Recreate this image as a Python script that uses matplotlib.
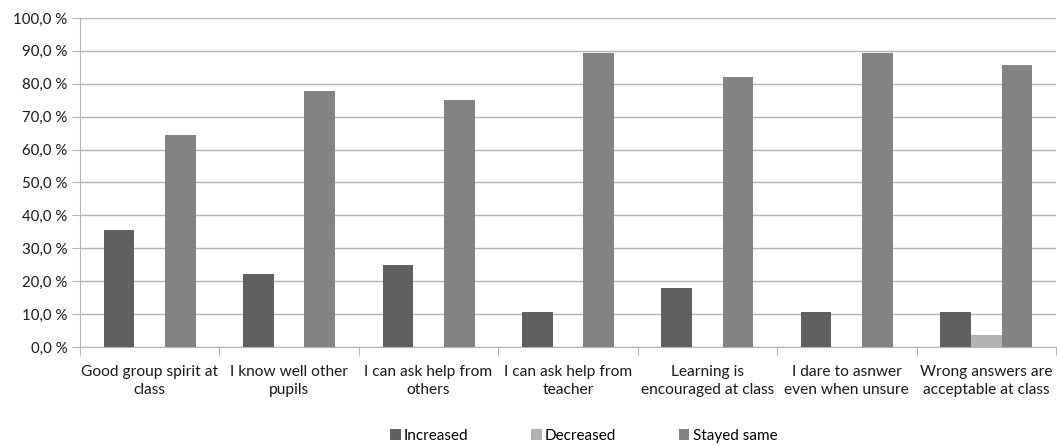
import numpy as np
import matplotlib.pyplot as plt
from matplotlib.ticker import FuncFormatter, FixedLocator

# kysymykset ja vastausten osuudet (%)
categories = ['Good group spirit at\nclass', 'I know well other\npupils',
              'I can ask help from\nothers', 'I can ask help from\nteacher',
              'Learning is\nencouraged at class', 'I dare to asnwer\neven when unsure',
              'Wrong answers are\nacceptable at class']
increased = [35.7, 22.2, 25.0, 10.7, 17.9, 10.7, 10.7]
decreased = [0.0, 0.0, 0.0, 0.0, 0.0, 0.0, 3.6]
stayed_same = [64.3, 77.8, 75.0, 89.3, 82.1, 89.3, 85.7]

plt.rcParams['font.family'] = ['Lato', 'DejaVu Sans']
plt.rcParams['font.size'] = 11

fig = plt.figure(figsize=(10.57, 4.45), dpi=100)
ax = fig.add_axes([0.0757, 0.2202, 0.9233, 0.7394])

x = np.arange(len(categories))
w = 0.22
ax.bar(x - w, increased, w, color='#606060', label='Increased', zorder=3)
ax.bar(x, decreased, w, color='#b2b2b2', label='Decreased', zorder=3)
ax.bar(x + w, stayed_same, w, color='#838383', label='Stayed same', zorder=3)

ax.set_xlim(-0.5, len(categories) - 0.5)
ax.set_ylim(0, 100)
ax.set_yticks(np.arange(0, 101, 10))
ax.yaxis.set_major_formatter(FuncFormatter(lambda v, p: f'{v:.1f}'.replace('.', ',') + ' %'))
ax.grid(axis='y', color='#b4b4b4', linewidth=1, zorder=0)

# kategoriarajat x-akselilla
ax.xaxis.set_major_locator(FixedLocator(np.arange(-0.5, len(categories), 1)))
ax.xaxis.set_major_formatter(FuncFormatter(lambda v, p: ''))
ax.xaxis.set_minor_locator(FixedLocator(x))
ax.set_xticks(x, categories, minor=True)
ax.tick_params(axis='x', which='major', length=6, color='#b4b4b4', direction='out')
ax.tick_params(axis='x', which='minor', length=0, pad=13, labelsize=11.2, colors='#1a1a1a')
ax.tick_params(axis='y', length=6, color='#b4b4b4', direction='out', pad=3,
               labelsize=10.8, colors='#1a1a1a')
for lbl in ax.get_xticklabels(minor=True):
    lbl.set_linespacing(1.4)

for s in ['top', 'right']:
    ax.spines[s].set_visible(False)
ax.spines['left'].set_color('#b4b4b4')
ax.spines['bottom'].set_color('#b4b4b4')

ax.legend(loc='center', bbox_to_anchor=(0.516, -0.27), ncol=3, frameon=False,
          handlelength=0.7, handleheight=0.7, handletextpad=0.2, columnspacing=4.1,
          fontsize=11)

fig.savefig('out.png', dpi=100)
